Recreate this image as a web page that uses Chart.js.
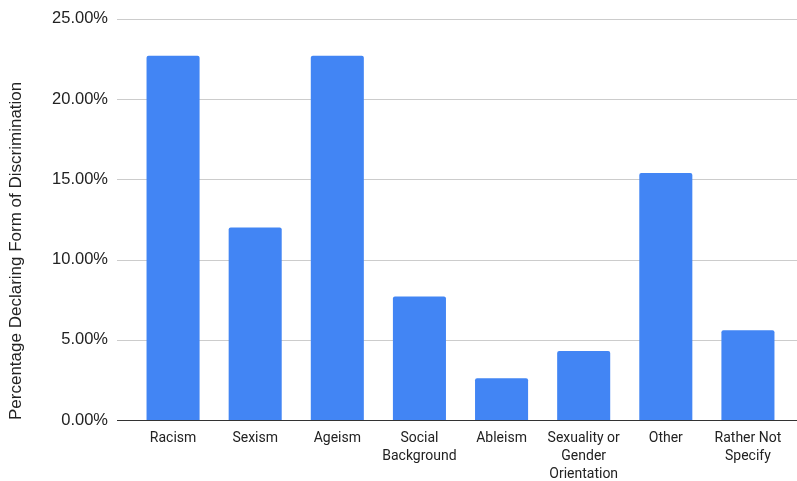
<!DOCTYPE html>
<html>
<head>
<meta charset="utf-8">
<script src="https://cdn.jsdelivr.net/npm/chart.js@4"></script>
<style>
  html, body { margin: 0; padding: 0; background: #fff; }
  #wrap { width: 797px; height: 481px; position: relative; }
</style>
</head>
<body>
<div id="wrap"><canvas id="chart"></canvas></div>
<script>
// categories (multi-line labels as drawn under the bars)
const categories = [
  'Racism', 'Sexism', 'Ageism', ['Social', 'Background'], 'Ableism',
  ['Sexuality or', 'Gender', 'Orientation'], 'Other', ['Rather Not', 'Specify']
];
// percentage declaring each form of discrimination
const percentValues = [22.7, 12.0, 22.7, 7.7, 2.6, 4.3, 15.4, 5.6];
// y axis ticks
const yTickValues = [0, 5, 10, 15, 20, 25];

const BLUE = '#4285F4';

// horizontal gridlines run a bit past the plot area on both sides, like the original
const wideGrid = {
  id: 'wideGrid',
  beforeDatasetsDraw(chart) {
    const { ctx, chartArea, scales: { y } } = chart;
    ctx.save();
    y.ticks.forEach(t => {
      const py = Math.round(y.getPixelForValue(t.value)) + 0.5;
      ctx.strokeStyle = t.value === 0 ? '#333' : '#ccc';
      ctx.lineWidth = 1;
      ctx.beginPath();
      ctx.moveTo(chartArea.left - 15, py);
      ctx.lineTo(chart.width, py);
      ctx.stroke();
    });
    ctx.restore();
  }
};

new Chart(document.getElementById('chart'), {
  type: 'bar',
  data: {
    labels: categories,
    datasets: [{
      data: percentValues,
      backgroundColor: BLUE,
      borderRadius: { topLeft: 2, topRight: 2 },
      borderSkipped: 'bottom',
      barPercentage: 0.646,
      categoryPercentage: 1
    }]
  },
  options: {
    responsive: true,
    maintainAspectRatio: false,
    animation: false,
    layout: { padding: { top: 0, right: 8, left: 0, bottom: 0 } },
    plugins: { legend: { display: false }, tooltip: { enabled: false } },
    scales: {
      x: {
        grid: { display: false, drawTicks: false },
        border: { display: false },
        ticks: {
          color: '#222',
          font: { family: 'Roboto', size: 14, lineHeight: 1.3 },
          padding: 9,
          maxRotation: 0,
          autoSkip: false
        },
        afterFit: s => { s.height = 61; }
      },
      y: {
        min: 0,
        max: 25,
        afterBuildTicks: s => { s.ticks = yTickValues.map(v => ({ value: v })); },
        grid: { display: false, drawTicks: true, tickLength: 15 },
        border: { display: false },
        ticks: {
          color: '#222',
          font: { family: 'Liberation Sans', size: 16.5 },
          padding: 9,
          callback: v => v.toFixed(2) + '%'
        },
        title: {
          display: true,
          text: 'Percentage Declaring Form of Discrimination',
          color: '#222',
          font: { family: 'Liberation Sans', size: 17 },
          align: 'start',
          padding: { top: 6, bottom: 0 }
        },
        afterFit: s => { s.width = 132; }
      }
    }
  },
  plugins: [wideGrid]
});
</script>
</body>
</html>
